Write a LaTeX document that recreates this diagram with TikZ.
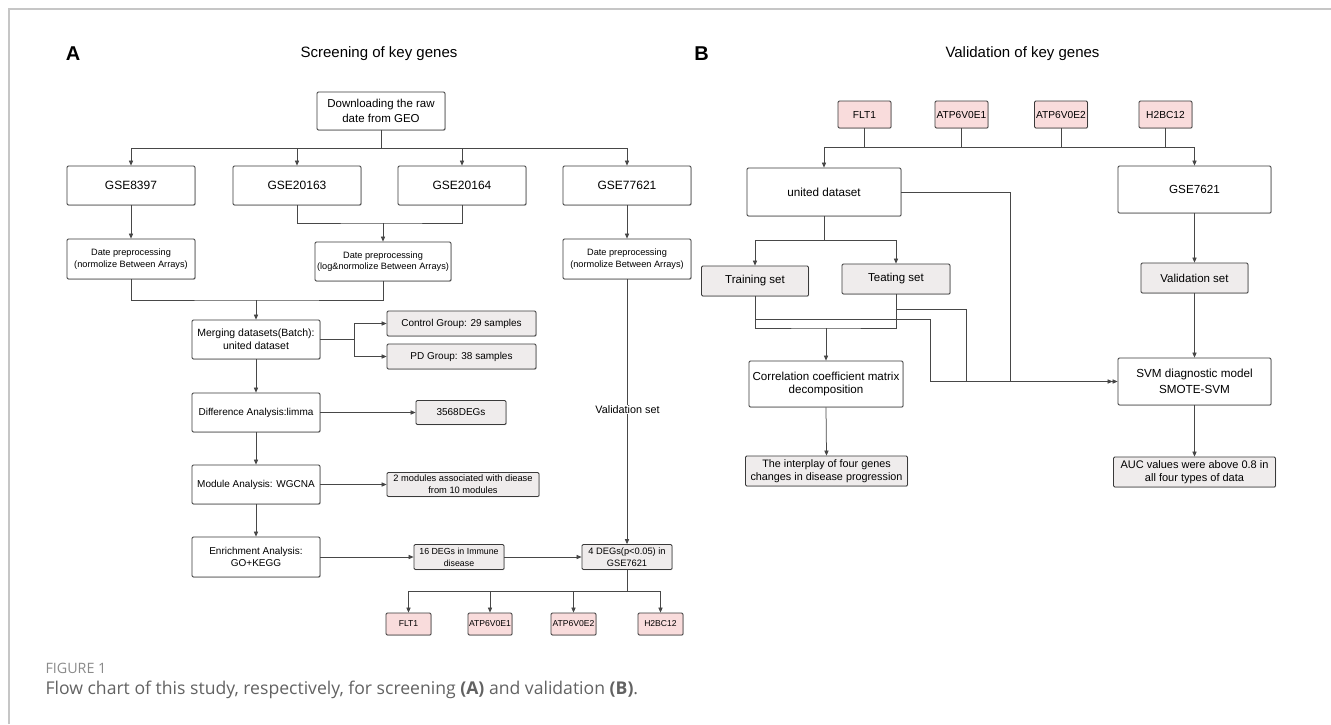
\documentclass[tikz,border=0pt]{standalone}
\usepackage{fontspec}
\setmainfont{Liberation Sans}
\newfontfamily\capfont{Open Sans}
\usetikzlibrary{arrows.meta,shadows}
\definecolor{lnc}{HTML}{474747}
\definecolor{bdc}{HTML}{3A3A3A}
\definecolor{gfc}{HTML}{EFECEC}
\definecolor{pfc}{HTML}{F9DCDC}
\definecolor{frmc}{HTML}{C6C6C6}
\definecolor{capc}{HTML}{626262}
\definecolor{figc}{HTML}{8A8A8A}
\newcommand\fsz[2]{\fontsize{#1}{#2}\selectfont}
\tikzset{
  wbox/.style={draw=bdc, fill=white, line width=0.8pt, rounded corners=1.2pt, align=center, inner sep=0pt,
     drop shadow={shadow xshift=0.5pt, shadow yshift=-0.7pt, fill=black, opacity=0.25}},
  gbox/.style={wbox, fill=gfc},
  pbox/.style={wbox, fill=pfc},
  conn/.style={draw=lnc, line width=0.75pt},
  arrw/.style={conn, -{Triangle[length=5pt,width=4.2pt]}},
  darrw/.style={conn, -{Triangle[length=5pt,width=4.2pt]Triangle[length=5pt,width=4.2pt]}},
}
\begin{document}
\begin{tikzpicture}[x=1pt,y=-1pt]
\useasboundingbox (0,0) rectangle (1331,724);
% frame
\draw[frmc, line width=1.5pt] (9,724) -- (9,9) -- (1331,9);

% ---------- Panel A ----------
\node[font=\fsz{20}{24}\bfseries] (lA) at (73,54) {A};
\node[font=\fsz{15}{18}] (tA) at (379,54) {Screening of key genes};

\node[wbox, minimum width=128pt, minimum height=38pt, font=\fsz{11.5}{15}] (dl) at (381,111) {Downloading the raw\\date from GEO};
\node[wbox, minimum width=128pt, minimum height=39pt, font=\fsz{12}{14}] (g1) at (131,185.5) {GSE8397};
\node[wbox, minimum width=128pt, minimum height=39pt, font=\fsz{12}{14}] (g2) at (297,185.5) {GSE20163};
\node[wbox, minimum width=128pt, minimum height=39pt, font=\fsz{12}{14}] (g3) at (462,185.5) {GSE20164};
\node[wbox, minimum width=128pt, minimum height=39pt, font=\fsz{12}{14}] (g4) at (627,185.5) {GSE77621};

\node[wbox, minimum width=128pt, minimum height=40pt, font=\fsz{9.2}{11.5}] (p1) at (131,259) {Date preprocessing\\(normolize Between Arrays)};
\node[wbox, minimum width=136pt, minimum height=39pt, font=\fsz{9.2}{11.5}] (p2) at (383,261.5) {Date preprocessing\\(log\&normolize Between Arrays)};
\node[wbox, minimum width=128pt, minimum height=40pt, font=\fsz{9.2}{11.5}] (p3) at (627,259) {Date preprocessing\\(normolize Between Arrays)};

\node[wbox, minimum width=128pt, minimum height=39pt, font=\fsz{10.5}{13.3}] (mg) at (256,339.5) {Merging datasets(Batch):\\united dataset};
\node[gbox, minimum width=149pt, minimum height=25pt, font=\fsz{10}{12}] (ctl) at (461.5,323.5) {Control Group: 29 samples};
\node[gbox, minimum width=149pt, minimum height=25pt, font=\fsz{10}{12}] (pd) at (461.5,356.5) {PD Group: 38 samples};

\node[wbox, minimum width=128pt, minimum height=39pt, font=\fsz{10}{12}] (dif) at (256,412.5) {Difference Analysis:limma};
\node[gbox, minimum width=90pt, minimum height=24pt, font=\fsz{10}{12}] (deg) at (461,412.5) {3568DEGs};

\node[wbox, minimum width=128pt, minimum height=39pt, font=\fsz{10}{12}] (mod) at (256,484.5) {Module Analysis: WGCNA};
\node[gbox, minimum width=152pt, minimum height=24pt, font=\fsz{9.3}{12}] (mods) at (463,484.5) {2 modules associated with diease\\from 10 modules};

\node[wbox, minimum width=128pt, minimum height=40pt, font=\fsz{10}{12}] (enr) at (256,557) {Enrichment Analysis:\\GO+KEGG};
\node[gbox, minimum width=90pt, minimum height=25pt, font=\fsz{8.8}{12}] (d16) at (459,557) {16 DEGs in Immune\\disease};
\node[gbox, minimum width=90pt, minimum height=25pt, font=\fsz{9.3}{12}] (d4) at (627,557) {4 DEGs(p<0.05) in\\GSE7621};

\node[pbox, minimum width=45pt, minimum height=22pt, font=\fsz{8.6}{10}] (fa) at (408.5,624) {FLT1};
\node[pbox, minimum width=44pt, minimum height=22pt, font=\fsz{8.6}{10}] (ea1) at (490,624) {ATP6V0E1};
\node[pbox, minimum width=45pt, minimum height=22pt, font=\fsz{8.6}{10}] (ea2) at (573.5,624) {ATP6V0E2};
\node[pbox, minimum width=45pt, minimum height=22pt, font=\fsz{8.6}{10}] (ha) at (660.5,624) {H2BC12};

% connectors A
\coordinate (busA) at (131,148);
\draw[conn] (dl.south) -- (dl.south |- busA);
\draw[conn] (busA) -- (busA -| g4.north);
\draw[arrw] (busA) -- (g1.north);
\draw[arrw] (busA -| g2.north) -- (g2.north);
\draw[arrw] (busA -| g3.north) -- (g3.north);
\draw[arrw] (busA -| g4.north) -- (g4.north);

\coordinate (j23) at (383,223);
\draw[conn] (g2.south) |- (j23) -| (g3.south);
\draw[arrw] (j23) -- (p2.north);
\draw[arrw] (g1.south) -- (p1.north);
\draw[arrw] (g4.south) -- (p3.north);

\coordinate (j12) at (256,300);
\draw[conn] (p1.south) |- (j12) -| (p2.south);
\draw[arrw] (j12) -- (mg.north);

\coordinate (brA) at (354,339.5);
\draw[conn] (mg.east) -- (brA);
\draw[arrw] (brA) |- (ctl.west);
\draw[arrw] (brA) |- (pd.west);

\draw[arrw] (mg.south) -- (dif.north);
\draw[arrw] (dif.east) -- (deg.west);
\draw[arrw] (dif.south) -- (mod.north);
\draw[arrw] (mod.east) -- (mods.west);
\draw[arrw] (mod.south) -- (enr.north);
\draw[arrw] (enr.east) -- (d16.west);
\draw[arrw] (d16.east) -- (d4.west);
\draw[arrw] (p3.south) -- (d4.north);
\node[font=\fsz{10.8}{12}, fill=white, inner sep=0.6pt] (vlab) at (627.5,409.5) {Validation set};

\coordinate (gbA) at (627,591);
\draw[conn] (d4.south) -- (gbA);
\draw[conn] (fa.north |- gbA) -- (ha.north |- gbA);
\draw[arrw] (fa.north |- gbA) -- (fa.north);
\draw[arrw] (ea1.north |- gbA) -- (ea1.north);
\draw[arrw] (ea2.north |- gbA) -- (ea2.north);
\draw[arrw] (ha.north |- gbA) -- (ha.north);

% ---------- Panel B ----------
\node[font=\fsz{20}{24}\bfseries] (lB) at (701.5,54) {B};
\node[font=\fsz{15}{18}] (tB) at (1022.5,54) {Validation of key genes};

\node[pbox, minimum width=53pt, minimum height=27pt, font=\fsz{10.2}{12}] (fb) at (864.5,114.5) {FLT1};
\node[pbox, minimum width=53pt, minimum height=27pt, font=\fsz{10.2}{12}] (eb1) at (961.5,114.5) {ATP6V0E1};
\node[pbox, minimum width=53pt, minimum height=27pt, font=\fsz{10.2}{12}] (eb2) at (1061,114.5) {ATP6V0E2};
\node[pbox, minimum width=53pt, minimum height=27pt, font=\fsz{10.2}{12}] (hb) at (1165.5,114.5) {H2BC12};

\node[wbox, minimum width=154pt, minimum height=48pt, font=\fsz{11.7}{14}] (ud) at (824,192) {united dataset};
\node[wbox, minimum width=153pt, minimum height=47pt, font=\fsz{11.7}{14}] (gs) at (1194.5,189.5) {GSE7621};

\node[gbox, minimum width=107pt, minimum height=30pt, font=\fsz{11.5}{14}] (tr) at (755,281) {Training set};
\node[gbox, minimum width=108pt, minimum height=30pt, font=\fsz{11.5}{14}] (te) at (896,279) {Teating set};
\node[gbox, minimum width=107pt, minimum height=30pt, font=\fsz{11.5}{14}] (vs) at (1194.5,278) {Validation set};

\node[wbox, minimum width=154pt, minimum height=46pt, font=\fsz{11.6}{13.3}] (cor) at (826,384) {Correlation coefficient matrix\\decomposition};
\node[wbox, minimum width=153pt, minimum height=47pt, font=\fsz{11.7}{16.5}] (svm) at (1194.5,381.5) {SVM diagnostic model\\SMOTE-SVM};

\node[gbox, minimum width=162pt, minimum height=30pt, font=\fsz{10.8}{13}] (int) at (826.5,471) {The interplay of four genes\\changes in disease progression};
\node[gbox, minimum width=162pt, minimum height=30pt, font=\fsz{11}{13}] (auc) at (1194.5,472) {AUC values were above 0.8 in\\all four types of data};

% connectors B
\coordinate (busB) at (824,147.5);
\draw[conn] (fb.south) -- (fb.south |- busB);
\draw[conn] (eb1.south) -- (eb1.south |- busB);
\draw[conn] (eb2.south) -- (eb2.south |- busB);
\draw[conn] (hb.south) -- (hb.south |- busB);
\draw[conn, line width=1.4pt] (busB) -- (busB -| gs.north);
\draw[arrw] (busB) -- (ud.north);
\draw[arrw] (busB -| gs.north) -- (gs.north);

\coordinate (ubr) at (824,240);
\draw[conn] (ud.south) -- (ubr);
\draw[conn] (tr.north |- ubr) -- (te.north |- ubr);
\draw[arrw] (tr.north |- ubr) -- (tr.north);
\draw[arrw] (te.north |- ubr) -- (te.north);

\coordinate (uj) at (826,328);
\draw[conn] (tr.south) |- (uj) -| (te.south);
\draw[arrw] (uj) -- (cor.north);

\coordinate (t1) at (755,319);
\coordinate (t2) at (930,319);
\coordinate (e1) at (896,309);
\coordinate (e2) at (966,309);
\coordinate (u1) at (1010,192);
\draw[conn] (t1) -- (t2) -- (t2 |- svm.west);
\draw[conn] (e1) -- (e2) -- (e2 |- svm.west);
\draw[conn] (ud.east) -- (u1) -- (u1 |- svm.west);
\draw[darrw] (t2 |- svm.west) -- (svm.west);

\draw[arrw] (gs.south) -- (vs.north);
\draw[arrw] (vs.south) -- (svm.north);
\draw[arrw] (cor.south) -- (int.north);
\draw[arrw] (svm.south) -- (auc.north);

% caption
\node[anchor=west, font=\capfont\fsz{14.3}{17}, text=figc] (fig) at (42,668) {FIGURE 1};
\node[anchor=west, font=\capfont\fsz{17.6}{20}, text=capc] (cap) at (42,690) {Flow chart of this study, respectively, for screening \textbf{(A)} and validation \textbf{(B)}.};
\end{tikzpicture}
\end{document}
